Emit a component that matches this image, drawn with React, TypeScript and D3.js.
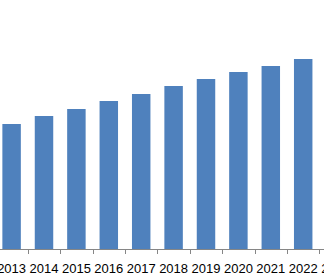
import React from "react";
import * as d3 from "d3";

const years = ["2013", "2014", "2015", "2016", "2017", "2018", "2019", "2020", "2021", "2022", "2023"];
const values = [12.5, 13.3, 14.0, 14.8, 15.5, 16.3, 17.0, 17.7, 18.3, 19.0, 19.7];

const W = 324;
const H = 279;

export default function App() {
  const x = d3
    .scaleBand<string>()
    .domain(years)
    .range([-4.6, -4.6 + 32.4 * years.length])
    .paddingInner(0.43)
    .paddingOuter(0.215);
  const y = d3.scaleLinear().domain([0, 25]).range([249, -1]);
  const step = x.step();
  const start = -4.6;
  const ticks = d3.range(years.length + 1).map((i) => start + i * step);
  return (
    <svg
      width={W}
      height={H}
      style={{ position: "absolute", left: 0, top: 0, background: "#fff" }}
    >
      {years.map((yr, i) => (
        <rect
          key={yr}
          x={x(yr)}
          y={y(values[i])}
          width={x.bandwidth()}
          height={y(0) - y(values[i])}
          fill="#4F81BD"
        />
      ))}
      <line x1={0} x2={W} y1={249.5} y2={249.5} stroke="#868686" strokeWidth={1} />
      {ticks.map((t, i) => (
        <line
          key={i}
          x1={Math.round(t) + 0.5}
          x2={Math.round(t) + 0.5}
          y1={249}
          y2={254}
          stroke="#868686"
          strokeWidth={1}
        />
      ))}
      {years.map((yr) => (
        <text
          key={yr}
          x={(x(yr) as number) + x.bandwidth() / 2}
          y={273}
          textAnchor="middle"
          fontFamily="'Liberation Sans', Arial, sans-serif"
          fontSize={13}
          fill="#000"
        >
          {yr}
        </text>
      ))}
    </svg>
  );
}
